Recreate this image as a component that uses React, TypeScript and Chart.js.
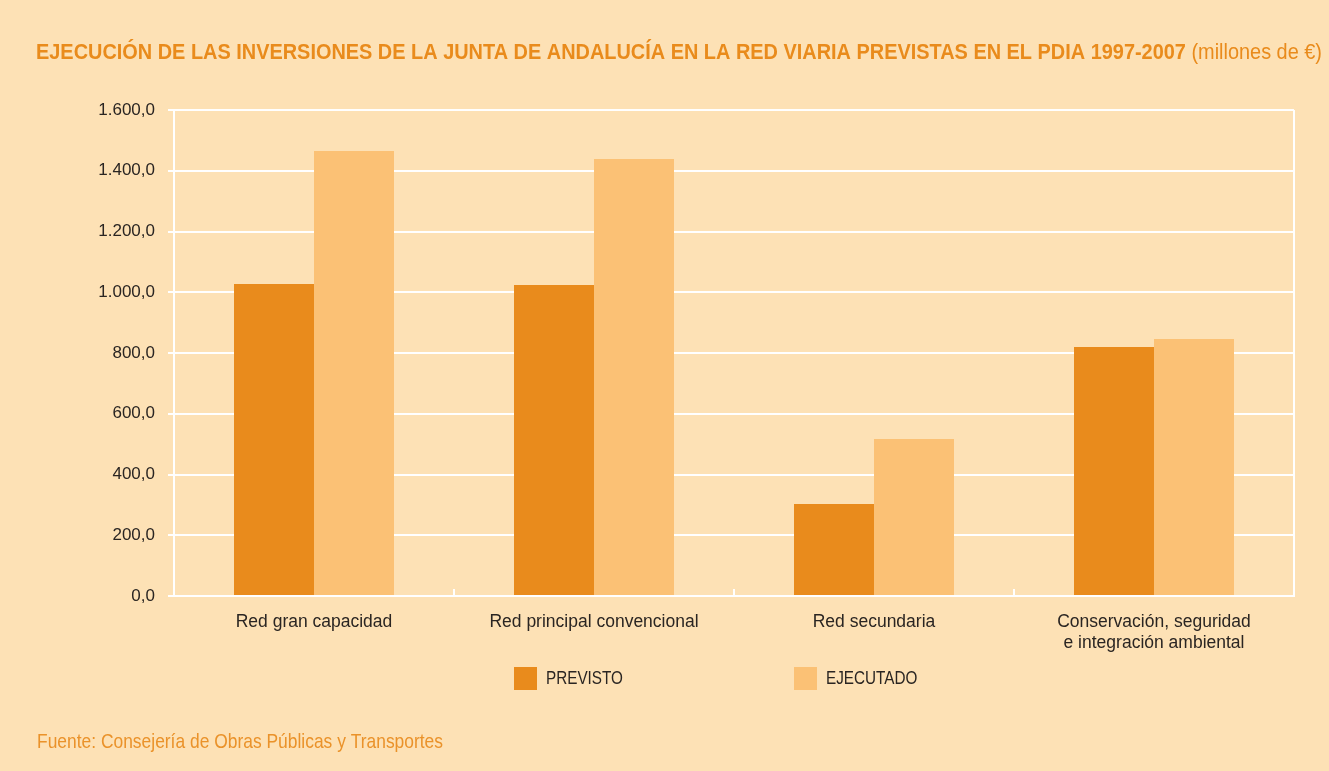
import React, { useEffect, useRef } from 'react';
import { Chart, registerables } from 'chart.js';

Chart.register(...registerables);

const categories: string[][] = [
  ['Red gran capacidad'],
  ['Red principal convencional'],
  ['Red secundaria'],
  ['Conservación, seguridad', 'e integración ambiental'],
];
const seriesLabels = ['PREVISTO', 'EJECUTADO'];
const previsto = [1027, 1024, 303, 820];
const ejecutado = [1465, 1439, 517, 846];
const yTickValues = [0, 200, 400, 600, 800, 1000, 1200, 1400, 1600];
const yTickLabels = ['0,0', '200,0', '400,0', '600,0', '800,0', '1.000,0', '1.200,0', '1.400,0', '1.600,0'];
const titleBold = 'EJECUCIÓN DE LAS INVERSIONES DE LA JUNTA DE ANDALUCÍA EN LA RED VIARIA PREVISTAS EN EL PDIA 1997-2007 ';
const titleNormal = '(millones de €)';
const sourceText = 'Fuente: Consejería de Obras Públicas y Transportes';

const BG = '#FDE1B5';
const DARK = '#E98B1C';
const LIGHT = '#FBC175';
const TEXT = '#2a2522';
const ORANGE_TEXT = '#E98B1C';
const FONT = "'Liberation Sans Narrow', 'Arial Narrow', 'Liberation Sans', Arial, sans-serif";

const decor = {
  id: 'decor',
  beforeDraw(chart: any) {
    const { ctx, width, height } = chart;
    ctx.save();
    ctx.fillStyle = BG;
    ctx.fillRect(0, 0, width, height);
    ctx.restore();
  },
  beforeDatasetsDraw(chart: any) {
    const { ctx, chartArea } = chart;
    const xs = chart.scales.x;
    ctx.save();
    ctx.strokeStyle = '#ffffff';
    ctx.lineWidth = 2;
    ctx.beginPath();
    ctx.moveTo(chartArea.right, chartArea.top);
    ctx.lineTo(chartArea.right, chartArea.bottom);
    for (let i = 1; i < categories.length; i++) {
      const bx = (xs.getPixelForValue(i - 1) + xs.getPixelForValue(i)) / 2;
      ctx.moveTo(bx, chartArea.bottom);
      ctx.lineTo(bx, chartArea.bottom - 7);
    }
    ctx.stroke();
    ctx.restore();
  },
  afterDraw(chart: any) {
    const { ctx } = chart;
    ctx.save();
    // Title
    const tSize = 22;
    ctx.textBaseline = 'alphabetic';
    ctx.font = `bold ${tSize}px ${FONT}`;
    const wb = ctx.measureText(titleBold).width;
    ctx.font = `${tSize}px ${FONT}`;
    const wn = ctx.measureText(titleNormal).width;
    const targetW = 1286;
    const sx = targetW / (wb + wn);
    ctx.save();
    ctx.translate(36, 59);
    ctx.scale(sx, 1);
    ctx.fillStyle = ORANGE_TEXT;
    ctx.textAlign = 'left';
    ctx.font = `bold ${tSize}px ${FONT}`;
    ctx.fillText(titleBold, 0, 0);
    ctx.font = `${tSize}px ${FONT}`;
    ctx.fillText(titleNormal, wb, 0);
    ctx.restore();

    // Legend
    const meta0 = chart.getDatasetMeta(0);
    const colors = [DARK, LIGHT];
    ctx.font = `18px ${FONT}`;
    ctx.textBaseline = 'middle';
    const refW = ctx.measureText(seriesLabels[0]).width;
    const lsx = 77 / refW;
    for (let i = 0; i < seriesLabels.length; i++) {
      const bar = meta0.data[i + 1];
      const left = bar.x - bar.width / 2;
      ctx.fillStyle = colors[i];
      ctx.fillRect(left, 667, 23, 23);
      ctx.save();
      ctx.translate(left + 32, 679);
      ctx.scale(lsx, 1);
      ctx.fillStyle = TEXT;
      ctx.textAlign = 'left';
      ctx.fillText(seriesLabels[i], 0, 0);
      ctx.restore();
    }

    // Source
    ctx.font = `21px ${FONT}`;
    ctx.textBaseline = 'alphabetic';
    const ws = ctx.measureText(sourceText).width;
    ctx.save();
    ctx.translate(37, 748);
    ctx.scale(406 / ws, 1);
    ctx.fillStyle = '#EA922A';
    ctx.textAlign = 'left';
    ctx.fillText(sourceText, 0, 0);
    ctx.restore();
    ctx.restore();
  },
};

export default function App() {
  const canvasRef = useRef<HTMLCanvasElement | null>(null);

  useEffect(() => {
    const canvas = canvasRef.current;
    if (!canvas) return;
    const chart = new Chart(canvas, {
      type: 'bar',
      data: {
        labels: categories,
        datasets: [
          {
            label: seriesLabels[0],
            data: previsto,
            backgroundColor: DARK,
            borderWidth: 0,
            categoryPercentage: 160 / 280,
            barPercentage: 1,
          },
          {
            label: seriesLabels[1],
            data: ejecutado,
            backgroundColor: LIGHT,
            borderWidth: 0,
            categoryPercentage: 160 / 280,
            barPercentage: 1,
          },
        ],
      },
      options: {
        responsive: false,
        animation: false,
        layout: { padding: { top: 110, right: 35, left: 0, bottom: 0 } },
        plugins: {
          legend: { display: false },
          tooltip: { enabled: false },
          title: { display: false },
        },
        scales: {
          x: {
            grid: { display: false },
            border: { display: true, color: '#ffffff', width: 2 },
            ticks: {
              color: TEXT,
              font: { family: FONT, size: 17.5 },
              padding: 8,
              maxRotation: 0,
              autoSkip: false,
            },
            afterFit(scale: any) {
              scale.height = 175;
            },
          },
          y: {
            min: 0,
            max: 1600,
            afterBuildTicks(scale: any) {
              scale.ticks = yTickValues.map((v) => ({ value: v }));
            },
            grid: { color: '#ffffff', lineWidth: 2, tickLength: 6, drawTicks: true },
            border: { display: true, color: '#ffffff', width: 2 },
            ticks: {
              color: TEXT,
              font: { family: FONT, size: 17 },
              padding: 13,
              callback: (value: any) => {
                const idx = yTickValues.indexOf(Number(value));
                return idx >= 0 ? yTickLabels[idx] : '';
              },
            },
            afterFit(scale: any) {
              scale.width = 174;
            },
          },
        },
      },
      plugins: [decor],
    });
    return () => chart.destroy();
  }, []);

  return (
    <div style={{ position: 'absolute', left: 0, top: 0, width: 1329, height: 771 }}>
      <canvas ref={canvasRef} width={1329} height={771} style={{ display: 'block' }} />
    </div>
  );
}
